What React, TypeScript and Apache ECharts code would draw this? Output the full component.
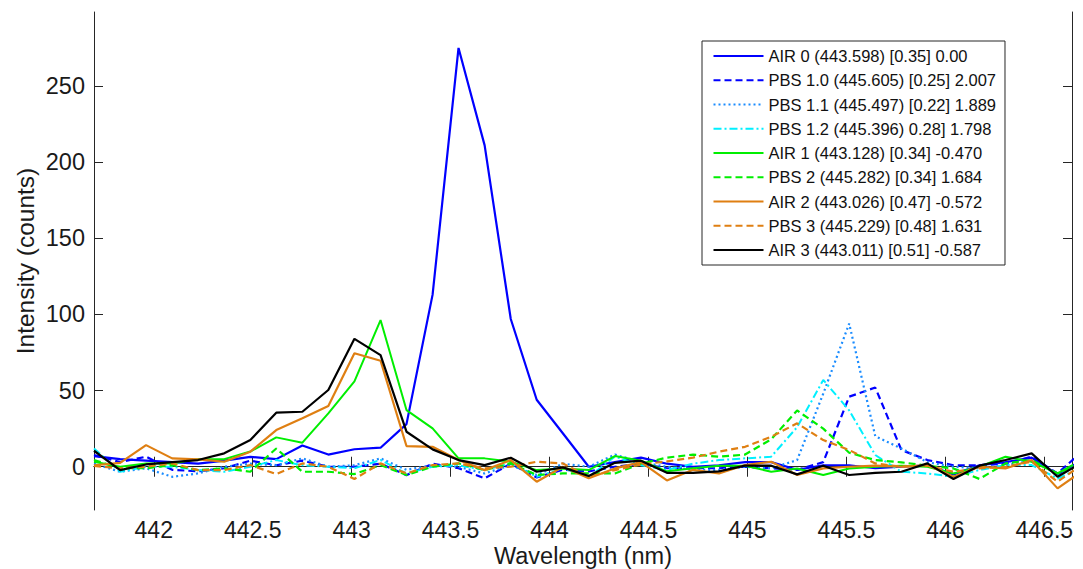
import React, { useEffect, useRef } from "react";
import * as echarts from "echarts";

// Wavelength grid (nm) of the spectrometer pixels
const wavelengths = [
  441.698, 441.83, 441.961, 442.093, 442.224, 442.356, 442.488, 442.619, 442.751, 442.882,
  443.014, 443.146, 443.277, 443.409, 443.54, 443.672, 443.804, 443.935, 444.067, 444.198,
  444.33, 444.462, 444.593, 444.725, 444.856, 444.988, 445.12, 445.251, 445.383, 445.514,
  445.646, 445.778, 445.909, 446.041, 446.172, 446.304, 446.436, 446.567, 446.699,
];

const air0 = [7, 5, 4, 3, 2, 4, 6.5, 5, 14, 8, 11.5, 12.5, 28, 113, 275, 211, 97, 44, 22, 0, 3, 6, 2, 0, 1, 3, 3, -2, 1, 1, -1, 0, 1, -5, 1, 3, 6, -5, 5];
const pbs10 = [7.7, 3, 6.6, -2, -3, -1, 4, 1, 4, 0, 0, 2, -5.5, 2, -1, -7.6, 2, -7, -2, -3, 0, 2, -1, -1, -1, 0, -1, -2, 3, 46, 52, 11, 4.4, 1, 1, 2, 6.6, -4.4, 11];
const pbs11 = [2, -3.3, -1, -6.6, -4.4, 0, 2, 1, 5.5, 0, 1, 5.5, -2, 1, 0, -4.4, 1, -5.4, 2, 0, 8, 3, 0, -2, -2, 0, -1, 4.4, 48, 94, 20, 12, 3, 0, -1, 1, 4, -5, 3];
const pbs12 = [12, -3.3, 0, 0, -2.2, -3.3, 0, 4.4, 1, 0, -1, 4.4, -4.4, 0, 1, -2.2, 2.2, -6.6, -1, -6.6, 6.6, 1, -2, 2, 4.4, 5.5, 6.6, 26, 57, 37, 7.7, -3.3, -4.4, -6.6, -2.2, 1.1, 1.1, -7.7, 0];
const air1 = [3.3, 0, 2.2, 2.2, 5, 5, 10, 19.3, 15.8, 35, 56, 96.3, 37.2, 25.2, 5.5, 5.5, 3.3, -2.2, -1.1, -2.2, 7, 4, -3, -1, 0.7, 0.7, -3.3, -1.1, -5.4, -1.1, 0, 0.7, 0, -4.4, 0, 6.6, 3.3, -4.4, 5];
const pbs2 = [4.4, -1, -1, 1.1, -2.2, -1, -3.3, 12, -3.3, -3.3, -4.8, 1.1, -5.4, 0, 2.2, -2.2, 2.2, -5.4, -4.4, -4.4, -4.4, 2, 6, 8, 6.6, 8, 18, 37, 25, 9.2, 4.4, 2.9, 0.7, -1.1, -8, 2.2, 4.4, -4.4, 3];
const air2 = [1, 2.5, 14.2, 5.5, 4.8, 3.3, 9.9, 24.1, 31.8, 39.9, 74.5, 69.6, 13.6, 13.1, 4.4, -2.2, 4.4, -9.8, 0, -7.6, -1.1, 3, -9, -2, -4.4, 1.1, 3.3, -5.4, -1.1, 0, 0.7, 0, 1.1, -6.6, 0, -1.1, 4.4, -14.2, -2.2];
const pbs3 = [0.5, -1, 0, 2.2, -2.2, -2.2, 1.1, -4.8, 2.2, 0, -8, 2.2, -4.4, 1.1, 2.2, -1.1, 0, 3.3, 2.2, -6.6, -2.2, 1.5, 3.5, 6, 9.9, 13.1, 19.7, 28.5, 17.5, 11, 2.2, 0, 0.7, -3.3, -1.1, 0, 3.3, -9.8, 2];
const air3 = [10.5, -2.2, 1.5, 3, 4.4, 8.8, 17.5, 35.5, 36.1, 50.4, 84, 73.3, 23, 11.4, 4.4, 1.1, 5.9, -3.3, -0.4, -6.1, 2.6, 4, -4, -4, -3, 0.7, 0.7, -5, 0.7, -5.4, -4, -3.3, 2.2, -8, 0.7, 4.4, 8.8, -6.6, 3.4];

const seriesNames = [
  "AIR 0 (443.598) [0.35] 0.00",
  "PBS 1.0 (445.605) [0.25] 2.007",
  "PBS 1.1 (445.497) [0.22] 1.889",
  "PBS 1.2 (445.396) 0.28] 1.798",
  "AIR 1 (443.128) [0.34] -0.470",
  "PBS 2 (445.282) [0.34] 1.684",
  "AIR 2 (443.026) [0.47] -0.572",
  "PBS 3 (445.229) [0.48] 1.631",
  "AIR 3 (443.011) [0.51] -0.587",
];
const seriesValues = [air0, pbs10, pbs11, pbs12, air1, pbs2, air2, pbs3, air3];

const xTicks = [442, 442.5, 443, 443.5, 444, 444.5, 445, 445.5, 446, 446.5];
const yTicks = [0, 50, 100, 150, 200, 250];
const xTitle = "Wavelength (nm)";
const yTitle = "Intensity (counts)";

const BLUE = "#0000ff";
const LIGHTBLUE = "#1a8cff";
const CYAN = "#00f0ff";
const GREEN = "#00ee00";
const ORANGE = "#df7f12";
const BLACK = "#000000";
const DASH = [7, 4];
const DOT = [2, 3];
const DASHDOT = [8, 3, 2, 3];
const styles: { color: string; type: any; width: number }[] = [
  { color: BLUE, type: "solid", width: 2.2 },
  { color: BLUE, type: DASH, width: 2.2 },
  { color: LIGHTBLUE, type: DOT, width: 2.2 },
  { color: CYAN, type: DASHDOT, width: 2 },
  { color: GREEN, type: "solid", width: 2 },
  { color: GREEN, type: DASH, width: 2.2 },
  { color: ORANGE, type: "solid", width: 2.2 },
  { color: ORANGE, type: DASH, width: 2.2 },
  { color: BLACK, type: "solid", width: 2.2 },
];

const FONT = "'Liberation Sans', Arial, sans-serif";
const AXIS_COLOR = "#262626";
const TEXT_COLOR = "#1a1a1a";

export default function App() {
  const ref = useRef<HTMLDivElement>(null);
  useEffect(() => {
    if (!ref.current) return;
    const chart = echarts.init(ref.current, undefined, { renderer: "svg" });
    const xMin = 441.698;
    const xMax = 446.64;
    const yMin = -28.4;
    const yMax = 298.6;
    const axisLine = { show: true, lineStyle: { color: AXIS_COLOR, width: 1 } };
    chart.setOption({
      animation: false,
      backgroundColor: "#ffffff",
      textStyle: { fontFamily: FONT },
      grid: { left: 94, top: 12, width: 978, height: 498, containLabel: false, outerBoundsMode: "none" },
      legend: {
        orient: "vertical",
        left: 702,
        top: 41,
        padding: [6.5, 9, 6.5, 10.5],
        itemWidth: 50,
        itemHeight: 14,
        itemGap: 7.25,
        itemStyle: { opacity: 0 },
        backgroundColor: "#ffffff",
        borderColor: AXIS_COLOR,
        borderWidth: 1,
        textStyle: { fontSize: 16.5, lineHeight: 17, color: "#111", fontFamily: FONT },
        data: seriesNames,
      },
      graphic: [
        {
          type: "text",
          x: 583,
          y: 556,
          style: {
            text: xTitle,
            fontSize: 23.5,
            fontFamily: FONT,
            fill: TEXT_COLOR,
            align: "center",
            verticalAlign: "middle",
          },
        },
        {
          type: "text",
          x: 25,
          y: 261,
          rotation: Math.PI / 2,
          style: {
            text: yTitle,
            fontSize: 24.5,
            fontFamily: FONT,
            fill: TEXT_COLOR,
            align: "center",
            verticalAlign: "middle",
          },
        },
      ],
      xAxis: [
        {
          type: "value",
          position: "bottom",
          min: xMin,
          max: xMax,
          axisLine,
          axisTick: { show: true, inside: true, length: 10, customValues: xTicks, lineStyle: { color: AXIS_COLOR } },
          axisLabel: { show: true, customValues: xTicks, fontSize: 23, color: TEXT_COLOR, margin: 8, fontFamily: FONT },
          splitLine: { show: false },
        },
        {
          type: "value",
          position: "top",
          min: xMin,
          max: xMax,
          axisLine,
          axisTick: { show: true, inside: true, length: 10, customValues: xTicks, lineStyle: { color: AXIS_COLOR } },
          axisLabel: { show: false },
          splitLine: { show: false },
        },
      ],
      yAxis: [
        {
          type: "value",
          position: "left",
          min: yMin,
          max: yMax,
          axisLine,
          axisTick: { show: true, inside: true, length: 9, customValues: yTicks, lineStyle: { color: AXIS_COLOR } },
          axisLabel: { show: true, customValues: yTicks, fontSize: 23.5, color: TEXT_COLOR, margin: 9, fontFamily: FONT },
          splitLine: { show: false },
        },
        {
          type: "value",
          position: "right",
          min: yMin,
          max: yMax,
          axisLine,
          axisTick: { show: true, inside: true, length: 9, customValues: yTicks, lineStyle: { color: AXIS_COLOR } },
          axisLabel: { show: false },
          splitLine: { show: false },
        },
      ],
      series: seriesNames.map((name, k) => ({
        name,
        type: "line",
        xAxisIndex: 0,
        yAxisIndex: 0,
        symbol: "none",
        clip: true,
        data: wavelengths.map((w, i) => [w, seriesValues[k][i]]),
        lineStyle: { color: styles[k].color, type: styles[k].type, width: styles[k].width },
        itemStyle: { color: styles[k].color },
      })),
    });
    return () => chart.dispose();
  }, []);
  return (
    <div
      ref={ref}
      style={{ position: "fixed", left: 0, top: 0, width: 1083, height: 569, background: "#fff" }}
    />
  );
}
